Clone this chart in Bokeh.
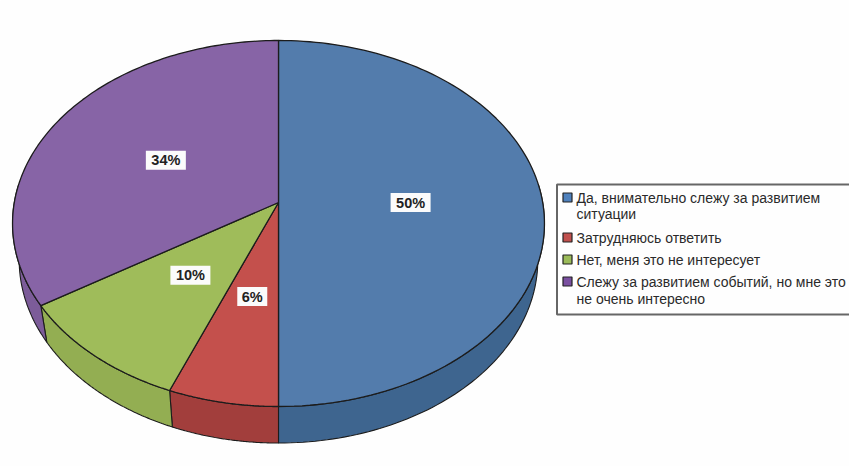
import numpy as np
from bokeh.plotting import figure
from bokeh.embed import file_html
from bokeh.resources import INLINE
from bokeh.core.properties import value

categories = ["Да, внимательно слежу за развитием\nситуации", "Затрудняюсь ответить",
              "Нет, меня это не интересует", "Слежу за развитием событий, но мне это\nне очень интересно"]
shares = [50, 6, 10, 34]
labels = ["50%", "6%", "10%", "34%"]
top_colors = ["#537CAC", "#C4504C", "#9FBC5A", "#8764A6"]
side_colors = ["#3E658F", "#A23E3C", "#93AE52", "#7C5C99"]
swatch_colors = ["#4F81BD", "#C0504D", "#9BBB59", "#7A4FA0"]

CX, CY = 278.0, 202.0
A, B, K = 264.2, 180.6, 0.1148
DEPTH, SHRINK = 36.5, 0.975
INK = "#1c1c1c"

p = figure(width=849, height=466, x_range=(0, 849), y_range=(466, 0), toolbar_location=None,
           output_backend="svg", min_border=0, outline_line_color=None, background_fill_color="#fefefe",
           border_fill_color="#fefefe")
p.axis.visible = False
p.grid.visible = False


def rim(share, r=1.0):
    t = np.asarray(share) / 100 * 2 * np.pi
    u, v = r * np.sin(t), -r * np.cos(t)
    d = 1 - K * v
    return A * u / d, B * v / d


def up(share):
    x, y = rim(share)
    return CX + x, CY + y


def low(share):
    x, y = rim(share)
    return CX + x * SHRINK, CY + y + DEPTH


edges = np.concatenate([[0], np.cumsum(shares)])
VIS0, VIS1 = 23.5, 76.5  # part of the turn whose side wall faces the viewer

# side walls
for i in range(len(shares)):
    a, b = max(edges[i], VIS0), min(edges[i + 1], VIS1)
    if b <= a:
        continue
    s = np.linspace(a, b, 80)
    xu, yu = up(s)
    xl, yl = low(s)
    p.patch(np.r_[xu, xl[::-1]], np.r_[yu, yl[::-1]], fill_color=side_colors[i], line_color=INK, line_width=1.1)

# top face
for i in range(len(shares)):
    s = np.linspace(edges[i], edges[i + 1], 120)
    x, y = up(s)
    p.patch(np.r_[CX, x], np.r_[CY, y], fill_color=top_colors[i], line_color=INK, line_width=1.3)

# value labels, half way along each slice's mid radius
mids = (edges[:-1] + edges[1:]) / 2
for m, lab in zip(mids, labels):
    x, y = rim(m, 0.5)
    w = 40 if len(lab) == 3 else 30
    p.rect([CX + x], [CY + y], width=w, height=19, fill_color="#fbfbfb", line_color=None)
    p.text([CX + x], [CY + y], text=[lab], text_align="center", text_baseline="middle",
           text_font=value("Liberation Sans"), text_font_size="14.5px", text_font_style="bold", text_color="#222222")

# legend
LX0, LX1, LY0, LY1 = 556.5, 870, 184, 314
p.quad(left=[LX0], right=[LX1], top=[LY0], bottom=[LY1], fill_color="#fefefe", line_color="#666666", line_width=2)
row_y = [197, 237, 259, 281]
sub_y = [213, None, None, 298]
for c, txt, y1, y2 in zip(swatch_colors, categories, row_y, sub_y):
    p.rect([567], [y1], width=9, height=9, fill_color=c, line_color="#222222", line_width=1.2)
    lines = txt.split("\n")
    for t, yy in zip(lines, [y1, y2]):
        p.text([576], [yy], text=[t], text_align="left", text_baseline="middle",
               text_font=value("Liberation Sans"), text_font_size="14px", text_color="#2a2a2a")

open("out.html", "w").write(file_html(p, INLINE))
